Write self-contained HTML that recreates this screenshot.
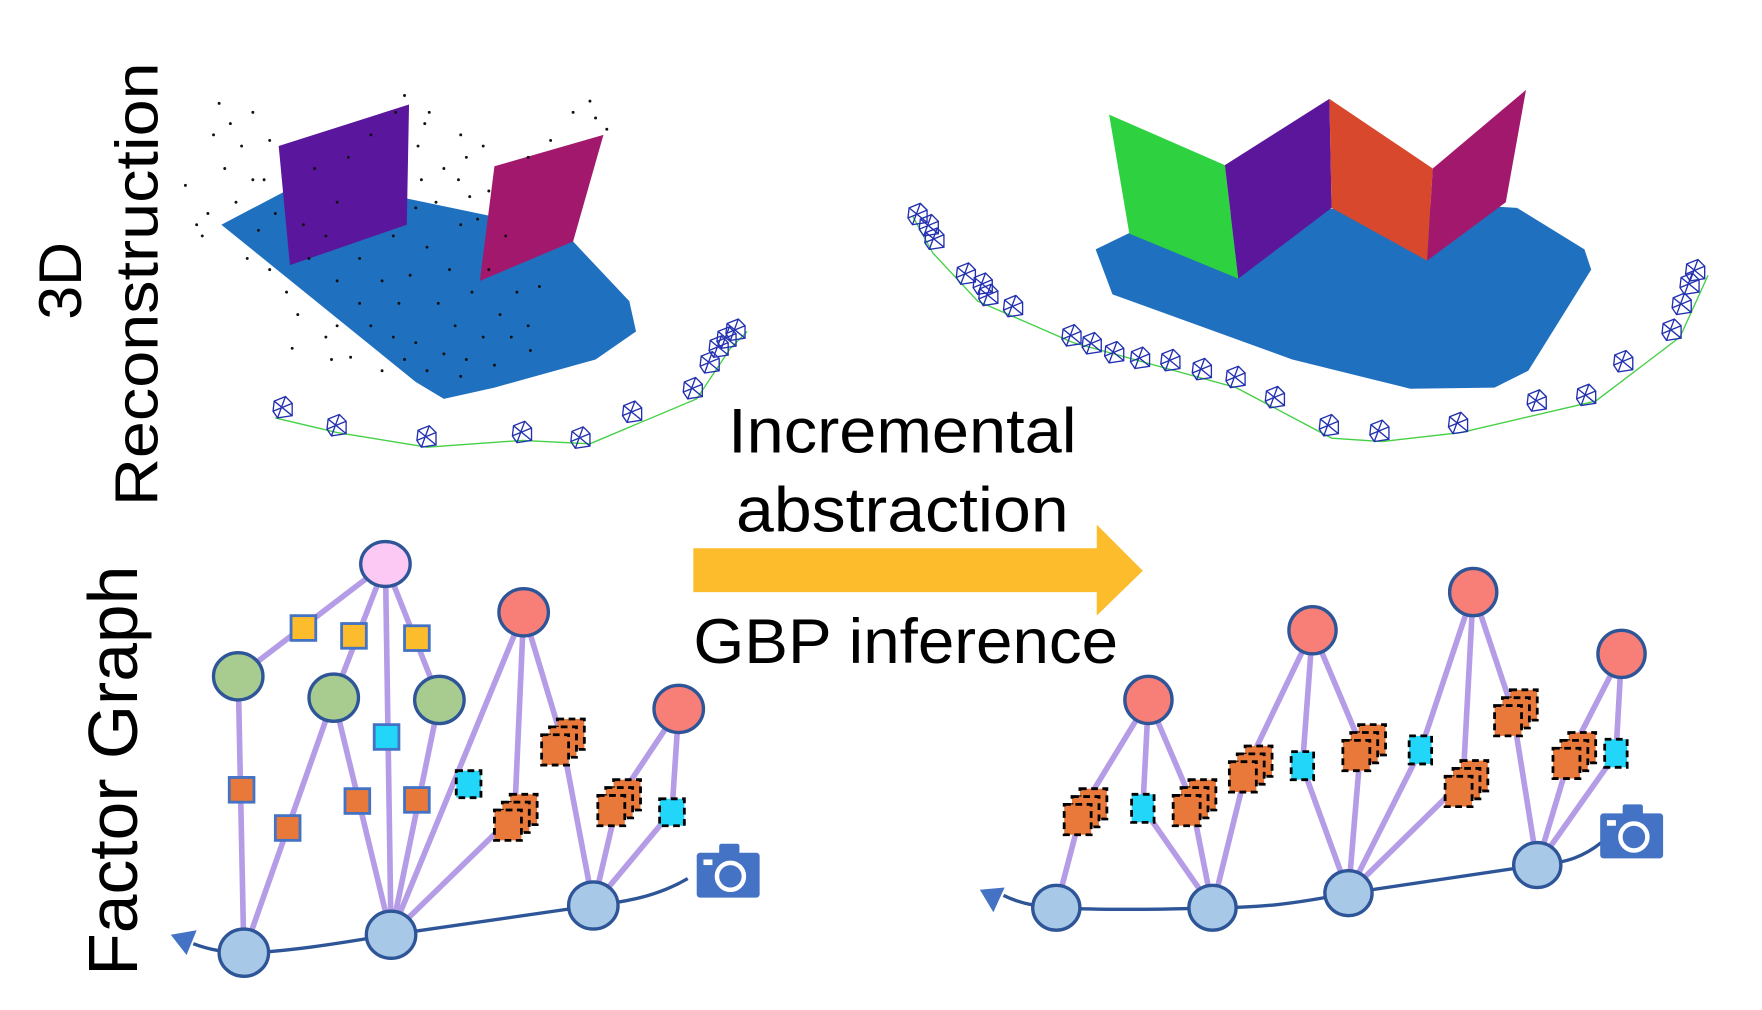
<!DOCTYPE html>
<html><head><meta charset="utf-8"><style>
html,body{margin:0;padding:0;background:#fff;}
svg{display:block;}
text{font-family:"Liberation Sans",sans-serif;fill:#000;}
</style></head><body>
<svg width="1762" height="1010" viewBox="0 0 1568 899" preserveAspectRatio="none" xmlns="http://www.w3.org/2000/svg">
<defs>
<g id="cube">
<rect x="-4" y="-20" width="24" height="27" fill="#e8793a" stroke="#000" stroke-width="2.5" stroke-dasharray="6,4"/>
<rect x="-11" y="-13" width="24" height="27" fill="#e8793a" stroke="#000" stroke-width="2.5" stroke-dasharray="6,4"/>
<rect x="-18" y="-6" width="24" height="27" fill="#e8793a" stroke="#000" stroke-width="2.5" stroke-dasharray="6,4"/>
</g>
<g id="cam">
<path d="M-6,-5 L4,-9 L10,-3 L10,8 L-3,10 L-7,4 Z M-6,-5 L10,8 M4,-9 L-3,10 M10,-3 L-7,4" fill="none" stroke="#2230b0" stroke-width="1.2"/>
</g>
<g id="camicon">
<rect x="-28" y="-18" width="56" height="40" rx="3" fill="#4472c4"/>
<rect x="-8" y="-26" width="18" height="10" rx="2" fill="#4472c4"/>
<rect x="-22" y="-12" width="8" height="5" fill="#fff"/>
<circle cx="2" cy="3" r="12" fill="none" stroke="#fff" stroke-width="4"/>
</g>
</defs>

<text transform="translate(72,250) rotate(-90)" text-anchor="middle" font-size="54">3D</text>
<text transform="translate(140,253) rotate(-90)" text-anchor="middle" font-size="54" textLength="395" lengthAdjust="spacingAndGlyphs">Reconstruction</text>
<text transform="translate(122,686) rotate(-90)" text-anchor="middle" font-size="62" textLength="365" lengthAdjust="spacingAndGlyphs">Factor Graph</text>

<text x="803" y="403" text-anchor="middle" font-size="56" textLength="310" lengthAdjust="spacingAndGlyphs">Incremental</text>
<text x="803" y="473" text-anchor="middle" font-size="56" textLength="296" lengthAdjust="spacingAndGlyphs">abstraction</text>
<text x="806" y="590" text-anchor="middle" font-size="56" textLength="378" lengthAdjust="spacingAndGlyphs">GBP inference</text>
<polygon points="617,488 976,488 976,467 1017,508 976,548 976,527 617,527" fill="#fcbc2c"/>

<polygon points="197,200 258,168 330,170 450,195 510,215 560,268 566,295 530,320 440,345 395,355 370,340" fill="#2070c0"/>
<polygon points="248,130 364,93 362,200 258,236" fill="#5a169c"/>
<polygon points="440,148 537,120 510,215 427,250" fill="#a2186c"/>
<g fill="#111">
<circle cx="195" cy="92" r="1.3"/><circle cx="205" cy="110" r="1.3"/><circle cx="215" cy="130" r="1.3"/><circle cx="200" cy="150" r="1.3"/><circle cx="185" cy="190" r="1.3"/><circle cx="180" cy="210" r="1.3"/><circle cx="210" cy="180" r="1.3"/><circle cx="225" cy="100" r="1.3"/><circle cx="240" cy="125" r="1.3"/><circle cx="235" cy="160" r="1.3"/><circle cx="220" cy="230" r="1.3"/><circle cx="240" cy="240" r="1.3"/><circle cx="255" cy="260" r="1.3"/><circle cx="265" cy="280" r="1.3"/><circle cx="290" cy="300" r="1.3"/><circle cx="295" cy="320" r="1.3"/><circle cx="300" cy="290" r="1.3"/><circle cx="320" cy="270" r="1.3"/><circle cx="340" cy="250" r="1.3"/><circle cx="350" cy="300" r="1.3"/><circle cx="360" cy="320" r="1.3"/><circle cx="370" cy="305" r="1.3"/><circle cx="380" cy="330" r="1.3"/><circle cx="395" cy="315" r="1.3"/><circle cx="405" cy="290" r="1.3"/><circle cx="415" cy="320" r="1.3"/><circle cx="430" cy="300" r="1.3"/><circle cx="445" cy="280" r="1.3"/><circle cx="455" cy="300" r="1.3"/><circle cx="470" cy="290" r="1.3"/><circle cx="460" cy="260" r="1.3"/><circle cx="420" cy="260" r="1.3"/><circle cx="400" cy="240" r="1.3"/><circle cx="380" cy="220" r="1.3"/><circle cx="370" cy="185" r="1.3"/><circle cx="375" cy="160" r="1.3"/><circle cx="372" cy="130" r="1.3"/><circle cx="378" cy="110" r="1.3"/><circle cx="360" cy="85" r="1.3"/><circle cx="352" cy="100" r="1.3"/><circle cx="382" cy="100" r="1.3"/><circle cx="410" cy="120" r="1.3"/><circle cx="415" cy="140" r="1.3"/><circle cx="408" cy="160" r="1.3"/><circle cx="418" cy="175" r="1.3"/><circle cx="425" cy="195" r="1.3"/><circle cx="410" cy="200" r="1.3"/><circle cx="435" cy="170" r="1.3"/><circle cx="470" cy="140" r="1.3"/><circle cx="490" cy="125" r="1.3"/><circle cx="510" cy="100" r="1.3"/><circle cx="530" cy="105" r="1.3"/><circle cx="540" cy="115" r="1.3"/><circle cx="525" cy="90" r="1.3"/><circle cx="290" cy="210" r="1.3"/><circle cx="300" cy="180" r="1.3"/><circle cx="280" cy="150" r="1.3"/><circle cx="310" cy="140" r="1.3"/><circle cx="330" cy="120" r="1.3"/><circle cx="270" cy="200" r="1.3"/><circle cx="320" cy="230" r="1.3"/><circle cx="350" cy="210" r="1.3"/><circle cx="260" cy="310" r="1.3"/><circle cx="275" cy="230" r="1.3"/><circle cx="300" cy="250" r="1.3"/><circle cx="330" cy="290" r="1.3"/><circle cx="355" cy="270" r="1.3"/><circle cx="390" cy="270" r="1.3"/><circle cx="435" cy="240" r="1.3"/><circle cx="480" cy="255" r="1.3"/><circle cx="472" cy="312" r="1.3"/><circle cx="440" cy="325" r="1.3"/><circle cx="410" cy="335" r="1.3"/><circle cx="165" cy="165" r="1.3"/><circle cx="175" cy="200" r="1.3"/><circle cx="190" cy="120" r="1.3"/><circle cx="230" cy="205" r="1.3"/><circle cx="245" cy="190" r="1.3"/><circle cx="225" cy="160" r="1.3"/><circle cx="388" cy="180" r="1.3"/><circle cx="395" cy="150" r="1.3"/><circle cx="430" cy="130" r="1.3"/><circle cx="450" cy="210" r="1.3"/><circle cx="365" cy="245" r="1.3"/><circle cx="340" cy="330" r="1.3"/><circle cx="312" cy="318" r="1.3"/></g>
<polyline points="245,372 300,385 380,398 465,392 525,395 620,355 650,310 665,295" fill="none" stroke="#44d044" stroke-width="1.2"/>
<g><use href="#cam" x="250" y="362"/><use href="#cam" x="298" y="378"/><use href="#cam" x="378" y="388"/><use href="#cam" x="463" y="384"/><use href="#cam" x="515" y="389"/><use href="#cam" x="561" y="366"/><use href="#cam" x="615" y="345"/><use href="#cam" x="630" y="322"/><use href="#cam" x="638" y="308"/><use href="#cam" x="645" y="300"/><use href="#cam" x="653" y="293"/></g>

<polygon points="975,222 1010,205 1100,190 1200,185 1300,182 1350,185 1410,222 1416,240 1360,330 1330,345 1255,346 1150,320 990,262" fill="#2070c0"/>
<polygon points="987,102 1090,147 1102,248 1005,208" fill="#2ed140"/>
<polygon points="1090,147 1183,88 1185,185 1102,248" fill="#5c169c"/>
<polygon points="1183,88 1275,150 1270,232 1185,185" fill="#d8482c"/>
<polygon points="1275,150 1358,80 1340,180 1270,232" fill="#a2186c"/>
<polyline points="812,192 830,225 870,268 955,305 1100,345 1185,390 1230,393 1300,385 1420,357 1495,300 1520,245" fill="none" stroke="#44d044" stroke-width="1.2"/>
<g><use href="#cam" x="815" y="190"/><use href="#cam" x="825" y="200"/><use href="#cam" x="830" y="212"/><use href="#cam" x="858" y="243"/><use href="#cam" x="873" y="252"/><use href="#cam" x="878" y="262"/><use href="#cam" x="900" y="272"/><use href="#cam" x="952" y="298"/><use href="#cam" x="970" y="305"/><use href="#cam" x="990" y="313"/><use href="#cam" x="1013" y="318"/><use href="#cam" x="1040" y="320"/><use href="#cam" x="1068" y="328"/><use href="#cam" x="1098" y="335"/><use href="#cam" x="1133" y="353"/><use href="#cam" x="1181" y="378"/><use href="#cam" x="1226" y="383"/><use href="#cam" x="1296" y="376"/><use href="#cam" x="1366" y="356"/><use href="#cam" x="1410" y="351"/><use href="#cam" x="1443" y="321"/><use href="#cam" x="1486" y="293"/><use href="#cam" x="1495" y="270"/><use href="#cam" x="1502" y="252"/><use href="#cam" x="1507" y="240"/></g>

<g stroke="#b59ce6" stroke-width="5" fill="none" stroke-linecap="round">
<path d="M343,502 L212,602 M343,502 L297,621 M343,502 L391,623 M343,502 L348,832"/>
<path d="M212,602 L217,848 M297,621 L217,848 M297,621 L348,832 M391,623 L348,832"/>
<path d="M466,545 L348,832 M466,545 L458,725 M466,545 L500,658 L528,806 M458,725 L348,832"/>
<path d="M604,631 L550,712 L528,806 M604,631 L598,722 L528,806"/>
</g>
<path d="M612,782 C590,795 565,802 528,806 L348,832 C300,840 250,848 217,848 C200,848 185,845 172,840" fill="none" stroke="#2e5597" stroke-width="3"/>
<polygon points="152,832 175,828 166,850" fill="#4472c4"/>
<g stroke="#2e5597" stroke-width="3">
<ellipse cx="343" cy="502" rx="22" ry="20" fill="#fcc8f4"/>
<ellipse cx="212" cy="602" rx="22" ry="21" fill="#a8cc90"/>
<ellipse cx="297" cy="621" rx="22" ry="21" fill="#a8cc90"/>
<ellipse cx="391" cy="623" rx="22" ry="21" fill="#a8cc90"/>
<ellipse cx="466" cy="545" rx="22" ry="21" fill="#f87e78"/>
<ellipse cx="604" cy="631" rx="22" ry="21" fill="#f87e78"/>
<ellipse cx="217" cy="848" rx="22" ry="21" fill="#a8c8e8"/>
<ellipse cx="348" cy="832" rx="22" ry="21" fill="#a8c8e8"/>
<ellipse cx="528" cy="806" rx="22" ry="21" fill="#a8c8e8"/>
</g>
<g stroke="#4472c4" stroke-width="2.5">
<rect x="259" y="548" width="22" height="22" fill="#fcbc2c"/>
<rect x="304" y="555" width="22" height="22" fill="#fcbc2c"/>
<rect x="360" y="557" width="22" height="22" fill="#fcbc2c"/>
<rect x="333" y="645" width="22" height="22" fill="#22d6fa"/>
<rect x="204" y="692" width="22" height="22" fill="#e8793a"/>
<rect x="245" y="726" width="22" height="22" fill="#e8793a"/>
<rect x="307" y="702" width="22" height="22" fill="#e8793a"/>
<rect x="360" y="701" width="22" height="22" fill="#e8793a"/>
</g>
<g stroke="#000" stroke-width="2.5" stroke-dasharray="6,4">
<rect x="406" y="686" width="22" height="24" fill="#22d6fa"/>
<rect x="587" y="711" width="22" height="24" fill="#22d6fa"/>
</g>
<use href="#cube" x="500" y="660"/><use href="#cube" x="458" y="727"/><use href="#cube" x="550" y="714"/>
<use href="#camicon" x="648" y="777"/>

<g stroke="#b59ce6" stroke-width="5" fill="none" stroke-linecap="round">
<path d="M1022,623 L963,720 L940,808 M1022,623 L1017,719 L1079,808 M1022,623 L1060,712 L1079,808"/>
<path d="M1168,561 L1110,682 L1079,808 M1168,561 L1159,682 L1200,795 M1168,561 L1211,663 L1200,795"/>
<path d="M1311,527 L1264,668 L1200,795 M1311,527 L1302,695 L1200,795 M1311,527 L1346,632 L1368,770"/>
<path d="M1443,582 L1398,670 L1368,770 M1443,582 L1438,671 L1368,770"/>
</g>
<path d="M1425,750 C1410,762 1395,768 1368,770 L1200,795 C1150,805 1120,808 1079,808 C1020,810 980,810 940,808 C920,807 905,803 893,797" fill="none" stroke="#2e5597" stroke-width="3"/>
<polygon points="872,792 894,790 884,812" fill="#4472c4"/>
<g stroke="#2e5597" stroke-width="3">
<ellipse cx="1022" cy="623" rx="21" ry="21" fill="#f87e78"/>
<ellipse cx="1168" cy="561" rx="21" ry="21" fill="#f87e78"/>
<ellipse cx="1311" cy="527" rx="21" ry="21" fill="#f87e78"/>
<ellipse cx="1443" cy="582" rx="21" ry="21" fill="#f87e78"/>
<ellipse cx="940" cy="808" rx="21" ry="20" fill="#a8c8e8"/>
<ellipse cx="1079" cy="808" rx="21" ry="20" fill="#a8c8e8"/>
<ellipse cx="1200" cy="795" rx="21" ry="20" fill="#a8c8e8"/>
<ellipse cx="1368" cy="770" rx="21" ry="20" fill="#a8c8e8"/>
</g>
<g stroke="#000" stroke-width="2.5" stroke-dasharray="6,4" fill="#22d6fa">
<rect x="1007" y="707" width="20" height="25"/>
<rect x="1149" y="669" width="20" height="25"/>
<rect x="1254" y="655" width="20" height="25"/>
<rect x="1428" y="658" width="20" height="25"/>
</g>
<use href="#cube" x="965" y="722"/><use href="#cube" x="1062" y="714"/><use href="#cube" x="1112" y="684"/><use href="#cube" x="1213" y="665"/><use href="#cube" x="1304" y="697"/><use href="#cube" x="1348" y="634"/><use href="#cube" x="1400" y="672"/>
<use href="#camicon" x="1452" y="742"/>
</svg>
</body></html>
